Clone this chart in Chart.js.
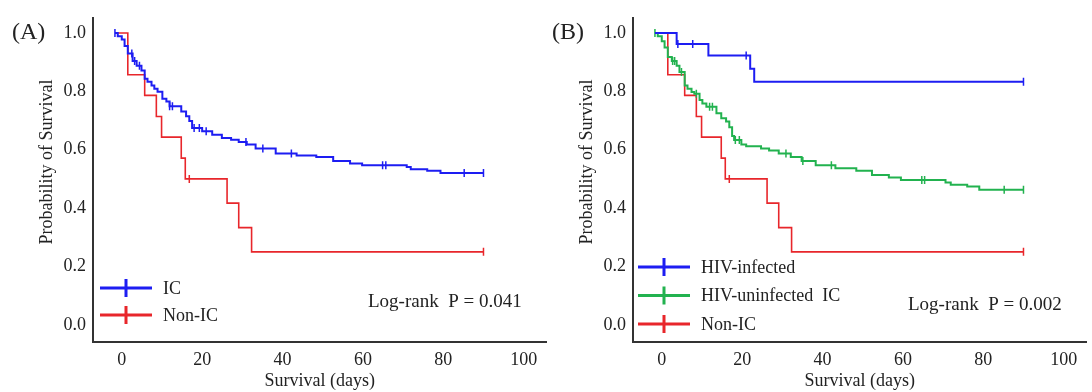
<!DOCTYPE html>
<html>
<head>
<meta charset="utf-8">
<script src="https://cdn.jsdelivr.net/npm/chart.js@4.4.1/dist/chart.umd.min.js"></script>
<style>
  body { margin: 0; background: #fff; }
  #wrap { position: relative; width: 1092px; height: 392px; background: #fff; }
  canvas { position: absolute; top: 0; }
  #chartA { left: 0; }
  #chartB { left: 540px; }
</style>
</head>
<body>
<div id="wrap">
  <canvas id="chartA" width="552" height="392"></canvas>
  <canvas id="chartB" width="552" height="392"></canvas>
</div>
<script>
// axis ticks
var xTicks = [0, 20, 40, 60, 80, 100];
var yTicks = [0, 0.2, 0.4, 0.6, 0.8, 1.0];

// IC (panel A)
var icTimes = [-1.7, -1.0, 0, 0.7, 1.5, 2.7, 3.7, 4.9, 5.7, 6.4, 7.4, 8.1, 8.9, 10.1, 11.1, 11.9, 14.8, 16.0, 16.8, 17.5,
  20.0, 22.5, 24.9, 27.2, 29.1, 31.1, 33.3, 38.3, 43.5, 48.4, 52.6, 56.8, 59.8, 70.9, 71.9, 76.0, 79.3, 90.0];
var icSurv = [1.0, 0.989, 0.978, 0.955, 0.930, 0.904, 0.888, 0.871, 0.843, 0.833, 0.820, 0.809, 0.799, 0.775, 0.765, 0.749,
  0.731, 0.715, 0.698, 0.674, 0.663, 0.651, 0.640, 0.634, 0.626, 0.618, 0.604, 0.587, 0.580, 0.575, 0.561, 0.553, 0.547,
  0.541, 0.533, 0.528, 0.520, 0.520];
var icCensor = [-1.7, 2.5, 3.2, 4.4, 11.9, 12.6, 18.0, 19.3, 21.0, 30.9, 35.1, 42.2, 64.9, 65.7, 85.2, 90.0];

// Non-IC (both panels)
var nonIcTimes = [-1.5, 1.5, 5.7, 8.6, 9.9, 14.8, 15.8, 26.2, 29.1, 32.3, 90.0];
var nonIcSurv = [1.0, 0.857, 0.786, 0.714, 0.643, 0.571, 0.5, 0.417, 0.333, 0.25, 0.25];
var nonIcCensor = [16.8, 90.0];

// HIV-infected (panel B)
var hivTimes = [-1.7, 3.7, 11.6, 22.0, 23.0, 90.0];
var hivSurv = [1.0, 0.962, 0.923, 0.877, 0.833, 0.833];
var hivCensor = [4.0, 7.7, 21.0, 90.0];

// HIV-uninfected IC (panel B)
var unTimes = [-1.7, -1.0, 0, 0.7, 1.5, 2.5, 3.7, 4.4, 5.7, 6.4, 7.4, 8.1, 9.4, 10.1, 11.1, 13.6, 14.8, 16.0, 16.8, 17.5,
  18.0, 19.8, 21.0, 24.7, 26.7, 29.1, 32.1, 34.8, 38.3, 43.2, 48.4, 52.3, 56.5, 59.5, 70.6, 71.9, 76.0, 79.0, 90.0];
var unSurv = [1.0, 0.989, 0.972, 0.950, 0.918, 0.904, 0.888, 0.866, 0.820, 0.809, 0.798, 0.792, 0.770, 0.758, 0.747, 0.725,
  0.708, 0.697, 0.677, 0.647, 0.633, 0.618, 0.612, 0.604, 0.597, 0.587, 0.575, 0.561, 0.547, 0.536, 0.528, 0.513, 0.505,
  0.496, 0.488, 0.480, 0.474, 0.463, 0.463];
var unCensor = [-1.7, 2.7, 3.2, 4.9, 8.6, 11.9, 12.6, 18.3, 19.3, 30.9, 35.1, 42.2, 64.7, 65.4, 85.2, 90.0];

var BLUE = "#1d1df2";
var RED = "#e8262b";
var GREEN = "#22b24f";
var FONT = "'Liberation Serif', 'Times New Roman', serif";

Chart.defaults.font.family = FONT;
Chart.defaults.font.size = 18;
Chart.defaults.color = "#222";

function survAt(times, surv, t) {
  var s = surv[0];
  for (var i = 0; i < times.length; i++) {
    if (times[i] <= t) s = surv[i];
  }
  return s;
}

function buildDatasets(groups) {
  var out = [];
  groups.forEach(function (g) {
    out.push({
      label: g.label,
      data: g.times.map(function (t, i) { return { x: t, y: g.surv[i] }; }),
      stepped: true,
      borderColor: g.color,
      borderWidth: g.width,
      pointRadius: 0,
      fill: false,
    });
    out.push({
      label: g.label + " censored",
      censor: true,
      data: g.censor.map(function (t) { return { x: t, y: survAt(g.times, g.surv, t) }; }),
      showLine: false,
      pointStyle: "line",
      rotation: 90,
      pointRadius: 4,
      borderColor: g.color,
      borderWidth: 1.5,
    });
  });
  return out;
}

// panel label, p-value, y title and legend
var kmAnnot = {
  id: "kmAnnot",
  afterDraw: function (chart, args, o) {
    var ctx = chart.ctx;
    ctx.save();
    ctx.fillStyle = "#222";
    ctx.textBaseline = "middle";
    ctx.font = "24px " + FONT;
    ctx.fillText(o.panel, 12, 33);
    ctx.font = "19px " + FONT;
    ctx.fillText(o.pText, o.pX, o.pY);

    ctx.font = "18px " + FONT;
    ctx.save();
    ctx.translate(47, 162);
    ctx.rotate(-Math.PI / 2);
    ctx.textAlign = "center";
    ctx.fillText("Probability of Survival", 0, 0);
    ctx.restore();

    var items = chart.data.datasets.filter(function (d) { return !d.censor; });
    items.forEach(function (d, i) {
      var y = o.legendY + i * o.legendGap;
      ctx.strokeStyle = d.borderColor;
      ctx.lineWidth = 3;
      ctx.beginPath();
      ctx.moveTo(o.legendX, y);
      ctx.lineTo(o.legendX + 52, y);
      ctx.moveTo(o.legendX + 26, y - 9);
      ctx.lineTo(o.legendX + 26, y + 9);
      ctx.stroke();
      ctx.fillText(d.label, o.legendX + 63, y + 1);
    });
    ctx.restore();
  },
};

function makeChart(id, groups, annot) {
  return new Chart(document.getElementById(id), {
    type: "line",
    data: { datasets: buildDatasets(groups) },
    options: {
      responsive: false,
      animation: false,
      events: [],
      layout: { padding: { top: 13, right: 2, left: 0, bottom: 0 } },
      scales: {
        x: {
          type: "linear",
          min: -7.16,
          max: 105.68,
          afterBuildTicks: function (s) { s.ticks = xTicks.map(function (v) { return { value: v }; }); },
          afterFit: function (s) { s.height = 50; },
          grid: { display: false, drawTicks: false },
          border: { display: true, color: "#333", width: 2 },
          ticks: { padding: 7, color: "#222" },
          title: { display: true, text: "Survival (days)", padding: { top: 0, bottom: 0 }, color: "#222" },
        },
        y: {
          min: -0.059,
          max: 1.052,
          afterBuildTicks: function (s) { s.ticks = yTicks.map(function (v) { return { value: v }; }); },
          afterFit: function (s) { s.width = 93; },
          grid: { display: false, drawTicks: false },
          border: { display: true, color: "#333", width: 2 },
          ticks: { padding: 7, color: "#222", callback: function (v) { return v.toFixed(1); } },
        },
      },
      plugins: {
        legend: { display: false },
        tooltip: { enabled: false },
        kmAnnot: annot,
      },
    },
    plugins: [kmAnnot],
  });
}

makeChart("chartA", [
  { label: "IC", color: BLUE, width: 2, times: icTimes, surv: icSurv, censor: icCensor },
  { label: "Non-IC", color: RED, width: 1.6, times: nonIcTimes, surv: nonIcSurv, censor: nonIcCensor },
], { panel: "(A)", pText: "Log-rank  P = 0.041", pX: 368, pY: 302, legendX: 100, legendY: 288, legendGap: 27 });

makeChart("chartB", [
  { label: "HIV-infected", color: BLUE, width: 2, times: hivTimes, surv: hivSurv, censor: hivCensor },
  { label: "HIV-uninfected  IC", color: GREEN, width: 2, times: unTimes, surv: unSurv, censor: unCensor },
  { label: "Non-IC", color: RED, width: 1.6, times: nonIcTimes, surv: nonIcSurv, censor: nonIcCensor },
], { panel: "(B)", pText: "Log-rank  P = 0.002", pX: 368, pY: 305, legendX: 98, legendY: 267, legendGap: 28.5 });
</script>
</body>
</html>
